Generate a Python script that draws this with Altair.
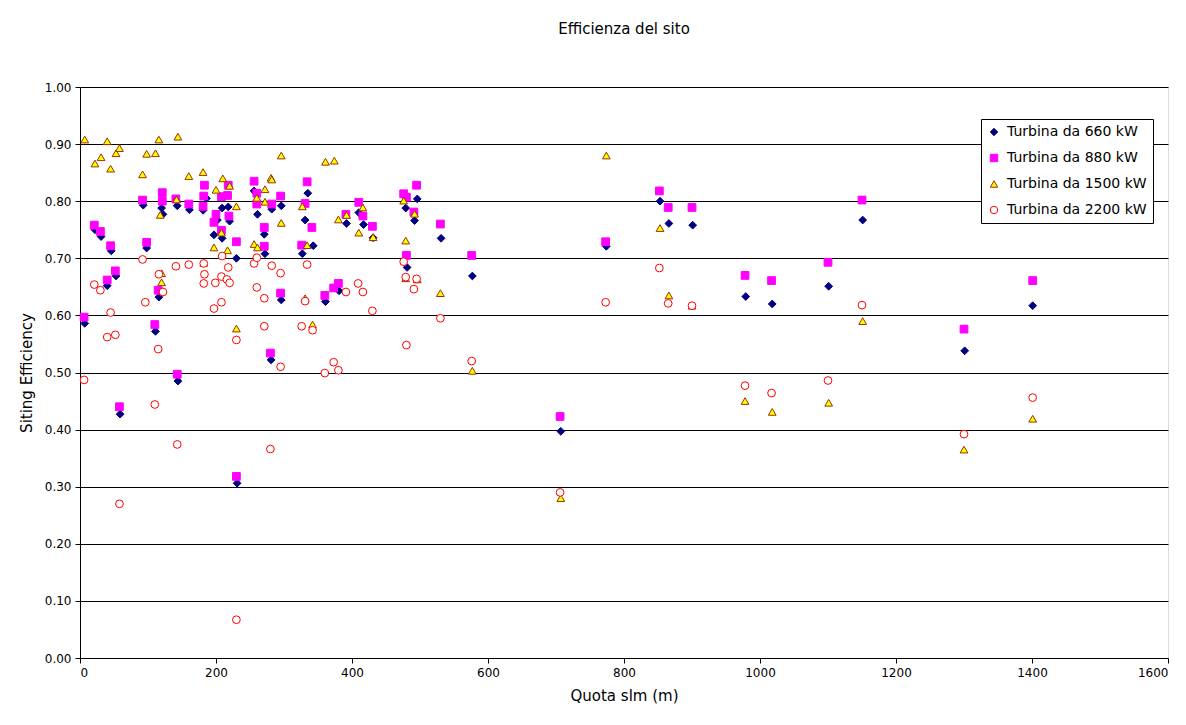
import altair as alt
import pandas as pd

# Quota slm (m) and siting efficiency for each turbine size
x_660 = [7, 22, 31, 40, 46, 53, 59, 93, 98, 111, 116, 120, 122, 143, 144, 161, 181, 186, 197, 202,
         209, 209, 218, 220, 230, 231, 256, 261, 271, 272, 281, 282, 296, 296, 327, 331, 335, 343,
         361, 381, 392, 410, 417, 431, 479, 481, 492, 496, 531, 577, 707, 774, 853, 866, 901, 979,
         1018, 1101, 1151, 1301, 1401]
y_660 = [0.586, 0.750, 0.738, 0.652, 0.713, 0.669, 0.427, 0.793, 0.718, 0.572, 0.632, 0.788, 0.777,
         0.792, 0.485, 0.785, 0.784, 0.805, 0.741, 0.767, 0.788, 0.735, 0.790, 0.765, 0.700, 0.306,
         0.818, 0.777, 0.742, 0.708, 0.522, 0.786, 0.792, 0.627, 0.708, 0.767, 0.814, 0.722, 0.624,
         0.643, 0.761, 0.780, 0.759, 0.736, 0.788, 0.684, 0.766, 0.804, 0.735, 0.669, 0.397, 0.721,
         0.800, 0.761, 0.758, 0.633, 0.620, 0.651, 0.767, 0.538, 0.617]

x_880 = [6, 21, 30, 40, 45, 52, 58, 92, 98, 110, 115, 121, 121, 141, 143, 160, 181, 182, 183, 197,
         200, 208, 208, 217, 218, 219, 230, 230, 256, 260, 260, 271, 271, 280, 282, 295, 295, 326,
         331, 334, 341, 360, 373, 380, 391, 410, 416, 430, 476, 480, 480, 491, 495, 530, 576, 706,
         773, 852, 865, 900, 978, 1017, 1100, 1150, 1300, 1401]
y_880 = [0.597, 0.758, 0.747, 0.662, 0.722, 0.678, 0.440, 0.802, 0.728, 0.584, 0.644, 0.815, 0.800,
         0.804, 0.497, 0.795, 0.791, 0.809, 0.828, 0.763, 0.777, 0.808, 0.749, 0.810, 0.828, 0.774,
         0.729, 0.318, 0.835, 0.814, 0.795, 0.754, 0.721, 0.534, 0.795, 0.809, 0.639, 0.723, 0.796,
         0.834, 0.754, 0.635, 0.648, 0.656, 0.777, 0.798, 0.774, 0.756, 0.813, 0.807, 0.705, 0.781,
         0.828, 0.760, 0.705, 0.423, 0.729, 0.818, 0.789, 0.789, 0.670, 0.661, 0.693, 0.802, 0.576,
         0.661]

x_1500 = [7, 22, 31, 40, 45, 53, 58, 92, 98, 111, 116, 118, 120, 120, 142, 144, 160, 181, 182, 197,
          200, 208, 210, 217, 220, 230, 230, 256, 260, 261, 272, 272, 281, 282, 296, 296, 327, 331,
          334, 342, 361, 374, 380, 392, 410, 416, 431, 476, 479, 479, 492, 496, 530, 577, 707, 774,
          853, 866, 900, 978, 1018, 1101, 1151, 1300, 1401]
y_1500 = [0.908, 0.866, 0.877, 0.905, 0.857, 0.884, 0.893, 0.847, 0.883, 0.884, 0.908, 0.776, 0.674,
          0.658, 0.803, 0.913, 0.844, 0.851, 0.692, 0.719, 0.820, 0.745, 0.840, 0.714, 0.827, 0.791,
          0.577, 0.725, 0.806, 0.719, 0.821, 0.799, 0.841, 0.838, 0.880, 0.762, 0.791, 0.630, 0.723,
          0.584, 0.869, 0.871, 0.768, 0.776, 0.745, 0.789, 0.737, 0.801, 0.731, 0.665, 0.778, 0.663,
          0.639, 0.503, 0.280, 0.880, 0.753, 0.635, 0.617, 0.450, 0.431, 0.447, 0.590, 0.365, 0.419]

x_2200 = [6, 21, 30, 40, 45, 52, 58, 92, 96, 110, 115, 116, 122, 141, 143, 160, 182, 183, 182, 197,
          199, 208, 208, 209, 216, 218, 220, 230, 230, 256, 260, 260, 271, 271, 280, 282, 295, 295,
          326, 331, 334, 342, 360, 373, 380, 391, 409, 416, 430, 476, 479, 480, 491, 495, 530, 576,
          706, 773, 852, 865, 900, 978, 1017, 1100, 1150, 1300, 1401]
y_2200 = [0.487, 0.654, 0.644, 0.562, 0.605, 0.566, 0.270, 0.698, 0.623, 0.444, 0.541, 0.672, 0.641,
          0.686, 0.374, 0.689, 0.691, 0.672, 0.656, 0.612, 0.657, 0.623, 0.668, 0.704, 0.663, 0.684,
          0.657, 0.557, 0.067, 0.691, 0.701, 0.649, 0.630, 0.581, 0.366, 0.687, 0.674, 0.510, 0.581,
          0.625, 0.689, 0.574, 0.499, 0.518, 0.504, 0.641, 0.656, 0.641, 0.608, 0.694, 0.667, 0.548,
          0.646, 0.664, 0.595, 0.520, 0.290, 0.623, 0.683, 0.621, 0.617, 0.477, 0.464, 0.486, 0.618,
          0.392, 0.456]

series_names = ["Turbina da 660 kW", "Turbina da 880 kW", "Turbina da 1500 kW", "Turbina da 2200 kW"]
fills = ["#000080", "#FF00FF", "#FFFF00", "#FFFFFF"]
strokes = ["#000080", "#FF00FF", "#993300", "#FF0000"]
shapes = ["diamond", "square", "triangle-up", "circle"]

frames = []
for name, xs, ys in zip(series_names,
                        [x_660, x_880, x_1500, x_2200],
                        [y_660, y_880, y_1500, y_2200]):
    frames.append(pd.DataFrame({"quota": xs, "eff": ys, "serie": name}))
df = pd.concat(frames, ignore_index=True)

font = "DejaVu Sans"
legend_field = alt.Legend(
    title=None, orient="none", legendX=901, legendY=32,
    labelFont=font, labelFontSize=14, labelColor="#000000", labelOffset=6,
    symbolSize=55, symbolStrokeWidth=1, rowPadding=12,
    padding=6, strokeColor="#000000", fillColor="#FFFFFF",
)

chart = alt.Chart(df).mark_point(filled=True, size=60, strokeWidth=1, opacity=1).encode(
    x=alt.X("quota:Q", title="Quota slm (m)",
            scale=alt.Scale(domain=[0, 1600], nice=False),
            axis=alt.Axis(values=list(range(0, 1601, 200)), format="d", grid=False,
                          domainColor="#000000", tickColor="#000000", tickSize=5,
                          labelFont=font, labelFontSize=12, labelColor="#000000",
                          titleFont=font, titleFontSize=15, titleFontWeight="normal",
                          titleColor="#000000", titlePadding=10, labelPadding=4)),
    y=alt.Y("eff:Q", title="Siting Efficiency",
            scale=alt.Scale(domain=[0, 1], nice=False),
            axis=alt.Axis(values=[i / 10 for i in range(11)], format=".2f",
                          grid=True, gridColor="#000000", gridWidth=1,
                          domainColor="#000000", tickColor="#000000", tickSize=5,
                          labelFont=font, labelFontSize=12, labelColor="#000000",
                          titleFont=font, titleFontSize=15, titleFontWeight="normal",
                          titleColor="#000000", titlePadding=10, labelPadding=4)),
    shape=alt.Shape("serie:N", scale=alt.Scale(domain=series_names, range=shapes), legend=legend_field),
    fill=alt.Fill("serie:N", scale=alt.Scale(domain=series_names, range=fills), legend=legend_field),
    stroke=alt.Stroke("serie:N", scale=alt.Scale(domain=series_names, range=strokes), legend=legend_field),
).properties(
    width=1088, height=571,
    title=alt.TitleParams("Efficienza del sito", font=font, fontSize=15, fontWeight="normal",
                          color="#000000", anchor="middle", offset=44),
    autosize=alt.AutoSizeParams(type="none"),
    padding={"left": 80, "top": 87, "right": 18, "bottom": 67},
).configure_view(stroke="#808080", strokeWidth=1).configure(background="#FFFFFF")

chart.save("out.html", embed_options={"renderer": "svg", "actions": False})
